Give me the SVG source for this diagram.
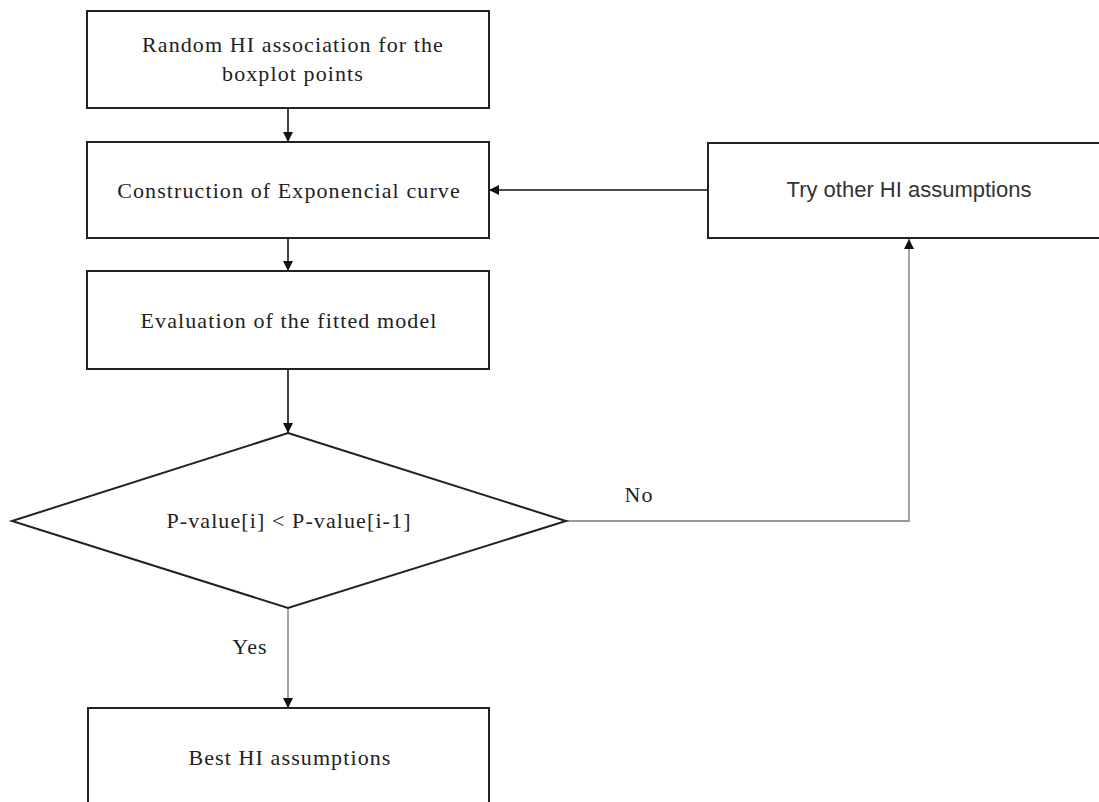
<svg xmlns="http://www.w3.org/2000/svg" width="1099" height="802" viewBox="0 0 1099 802">
<style>
.box{fill:#fff;stroke:#222;stroke-width:2}
.t{font-family:"Liberation Serif","Times New Roman",serif;font-size:22px;letter-spacing:1.1px;fill:#222;text-anchor:middle}
.ts{font-family:"Liberation Sans",Arial,sans-serif;font-size:22px;fill:#333;text-anchor:middle}
.c{fill:none;stroke:#111;stroke-width:1.6}
.g{fill:none;stroke:#999;stroke-width:1.8}
</style>
<defs>
<marker id="ah" viewBox="0 0 10 10" refX="10" refY="5" markerWidth="10" markerHeight="10" markerUnits="userSpaceOnUse" orient="auto">
<path d="M0,0 L10,5 L0,10 Z" fill="#111"/>
</marker>
</defs>
<rect width="1099" height="802" fill="#fff"/>
<g id="connectors">
<line class="c" x1="288" y1="108" x2="288" y2="142" marker-end="url(#ah)"/>
<line class="c" x1="288" y1="238" x2="288" y2="271" marker-end="url(#ah)"/>
<line class="c" x1="288" y1="369" x2="288" y2="433" marker-end="url(#ah)"/>
<line class="c" x1="708" y1="190" x2="489" y2="190" marker-end="url(#ah)"/>
<polyline class="g" points="566,521 909,521 909,239" marker-end="url(#ah)"/>
<line class="g" x1="288" y1="608" x2="288" y2="708" marker-end="url(#ah)"/>
<text class="t" x="639" y="502">No</text>
<text class="t" x="250" y="654">Yes</text>
</g>
<g id="n1">
<rect class="box" x="87" y="11" width="402" height="97"/>
<text class="t" x="293" y="52">Random HI association for the</text>
<text class="t" x="293" y="81">boxplot points</text>
</g>
<g id="n2">
<rect class="box" x="87" y="142" width="402" height="96"/>
<text class="t" x="289" y="198">Construction of Exponencial curve</text>
</g>
<g id="n3">
<rect class="box" x="87" y="271" width="402" height="98"/>
<text class="t" x="289" y="328">Evaluation of the fitted model</text>
</g>
<g id="n4">
<polygon class="box" points="288,433 566,521 288,608 12,521"/>
<text class="t" x="289" y="528">P-value[i] &lt; P-value[i-1]</text>
</g>
<g id="n5">
<rect class="box" x="708" y="143" width="400" height="95"/>
<text class="ts" x="909" y="197">Try other HI assumptions</text>
</g>
<g id="n6">
<rect class="box" x="88" y="708" width="401" height="110"/>
<text class="t" x="290" y="765">Best HI assumptions</text>
</g>
</svg>
